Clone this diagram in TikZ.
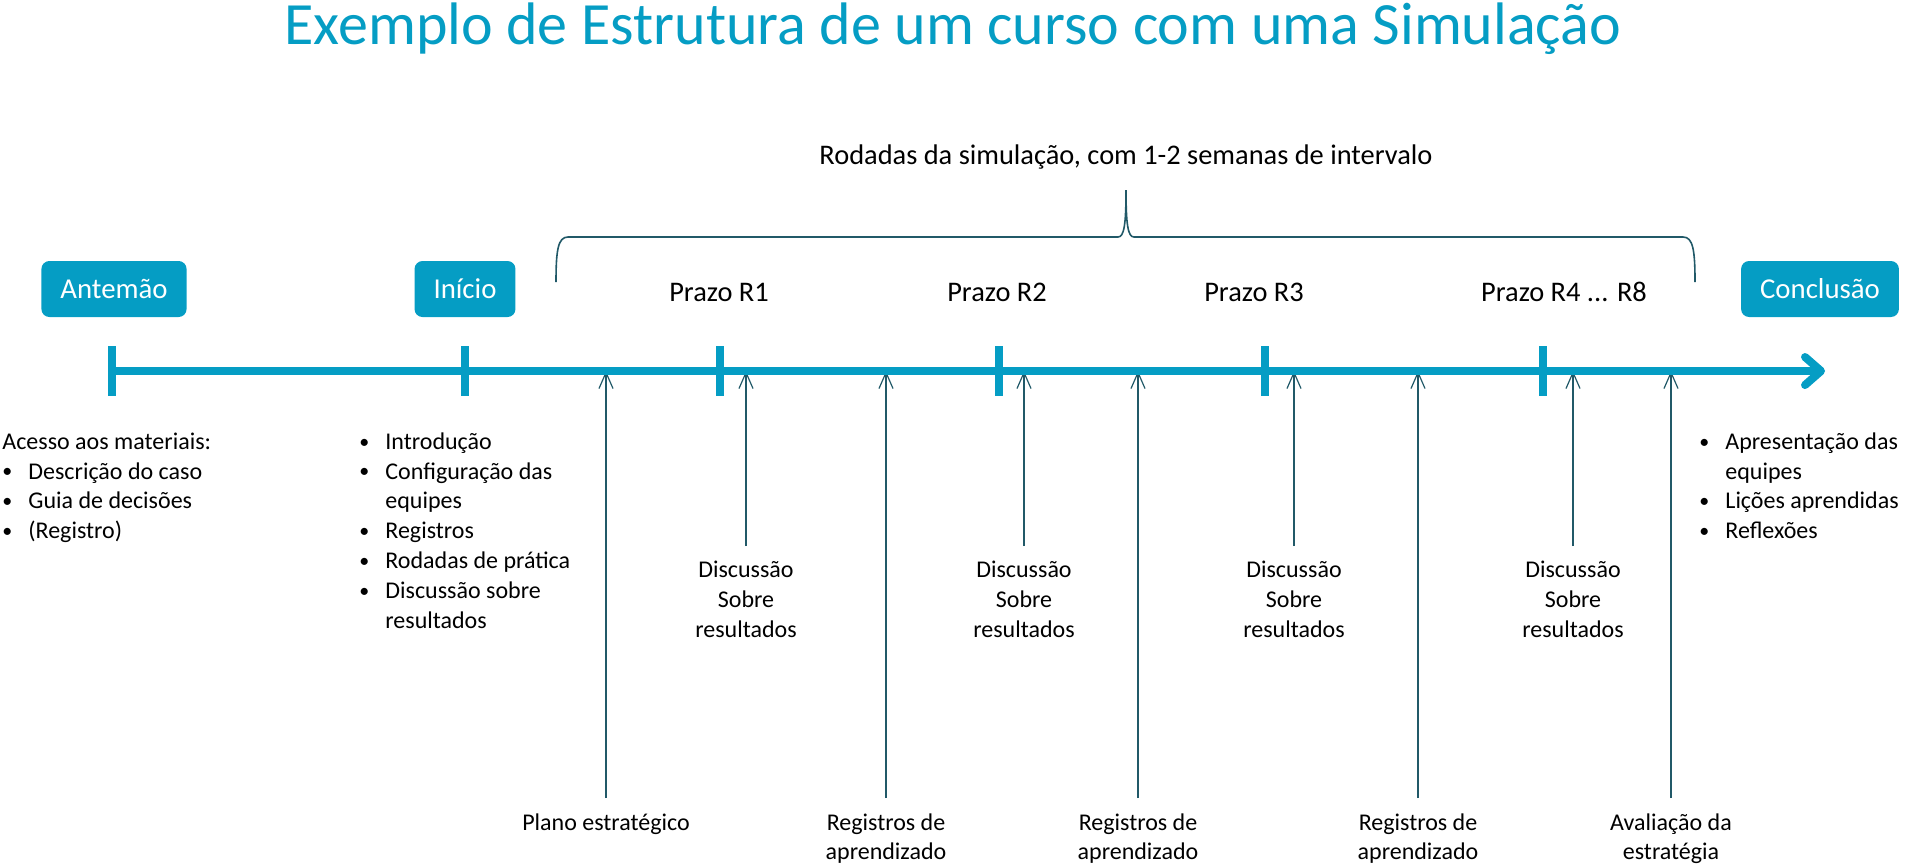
\documentclass[tikz,border=0pt]{standalone}
\usepackage{fontspec}
\setmainfont{Carlito}
\usetikzlibrary{arrows.meta}
\usetikzlibrary{positioning}

\definecolor{simblue}{RGB}{5,157,196}
\definecolor{simdark}{RGB}{33,89,104}
\newcommand{\bul}{\makebox[13pt][l]{\raisebox{0.6pt}{\fontsize{10}{10}\selectfont\textbullet}}}
\newcommand{\ind}{\hspace*{13pt}}

\tikzset{
  phase/.style={fill=simblue,text=white,rounded corners=4pt,minimum height=28pt,inner xsep=9.5pt,font=\fontsize{14.4}{17}\selectfont},
  prazo/.style={font=\fontsize{14.2}{17}\selectfont},
  note/.style={font=\fontsize{12}{14.8}\selectfont,align=center,inner xsep=0pt,inner ysep=6pt,anchor=north},
  list/.style={font=\fontsize{12}{14.9}\selectfont,align=left,inner sep=0pt,anchor=north west},
  feed/.style={draw=simdark,line width=0.6pt,-{Straight Barb[length=8pt,width=7pt]}},
  tickmark/.style={draw=simblue,line width=4pt},
}

\begin{document}
\begin{tikzpicture}[x=0.5pt,y=-0.5pt]
    \useasboundingbox (0,0) rectangle (1905,864);

    \node[anchor=base,text=simblue,font=\fontsize{30}{36}\selectfont] (title) at (953,44) {Exemplo de Estrutura de um curso com uma Simulação};

    % rodadas + chave
    \node[prazo] (rounds) at (1126,157) {Rodadas da simulação, com 1-2 semanas de intervalo};
    \draw[simdark,line width=0.8pt] (556,282) .. controls (556,250) and (558,237) .. (568,237) -- (1118,237)
        .. controls (1124,237) and (1126,225) .. (1126,190) .. controls (1126,225) and (1128,237) .. (1134,237)
        -- (1683,237) .. controls (1693,237) and (1695,250) .. (1695,282);

    \node[phase] (antemao) at (114,289) {Antemão};
    \node[phase] (inicio) at (465,289) {Início};
    \node[phase] (conclusao) at (1820,289) {Conclusão};

    \node[prazo] (r1) at (719,292) {Prazo R1};
    \node[prazo] (r2) at (997,292) {Prazo R2};
    \node[prazo] (r3) at (1254,292) {Prazo R3};
    \node[prazo] (r4) at (1564,292) {Prazo R4 ... R8};

    % listas
    \node[list] (pre) at (2,428) {\strut Acesso aos materiais:\\ \bul Descrição do caso\\ \bul Guia de decisões\\ \bul (Registro)};
    \node[list] (intro) at (359,428) {\strut\bul Introdução\\ \bul Configuração das\\ \ind equipes\\ \bul Registros\\ \bul Rodadas de prática\\ \bul Discussão sobre\\ \ind resultados};
    \node[list] (fim) at (1699,428) {\strut\bul Apresentação das\\ \ind equipes\\ \bul Lições aprendidas\\ \bul Reflexões};

    % discussoes
    \node[note] (d1) at (746,549) {Discussão\\Sobre\\resultados};
    \node[note] (d2) at (1024,549) {Discussão\\Sobre\\resultados};
    \node[note] (d3) at (1294,549) {Discussão\\Sobre\\resultados};
    \node[note] (d4) at (1573,549) {Discussão\\Sobre\\resultados};

    % entregas
    \node[note] (pe) at (606,801) {Plano estratégico};
    \node[note] (ra1) at (886,801) {Registros de\\aprendizado};
    \node[note] (ra2) at (1138,801) {Registros de\\aprendizado};
    \node[note] (ra3) at (1418,801) {Registros de\\aprendizado};
    \node[note] (ae) at (1671,801) {Avaliação da\\estratégia};

    \coordinate (tl) at (0,371);
    \foreach \n in {d1,d2,d3,d4,pe,ra1,ra2,ra3,ae}
        \draw[feed] ([yshift=1.5pt]\n.north) -- (\n.north |- tl);

    % linha do tempo
    \coordinate (tstart) at (112,371);
    \coordinate (tend) at (1825,371);
    \draw[simblue,line width=4pt,-{Straight Barb[length=8pt,width=14pt,round]}] (tstart) -- (tend);
    \foreach \x in {112,465,720,999,1265,1543}
        \draw[tickmark] (\x,346) -- (\x,396);
\end{tikzpicture}
\end{document}
